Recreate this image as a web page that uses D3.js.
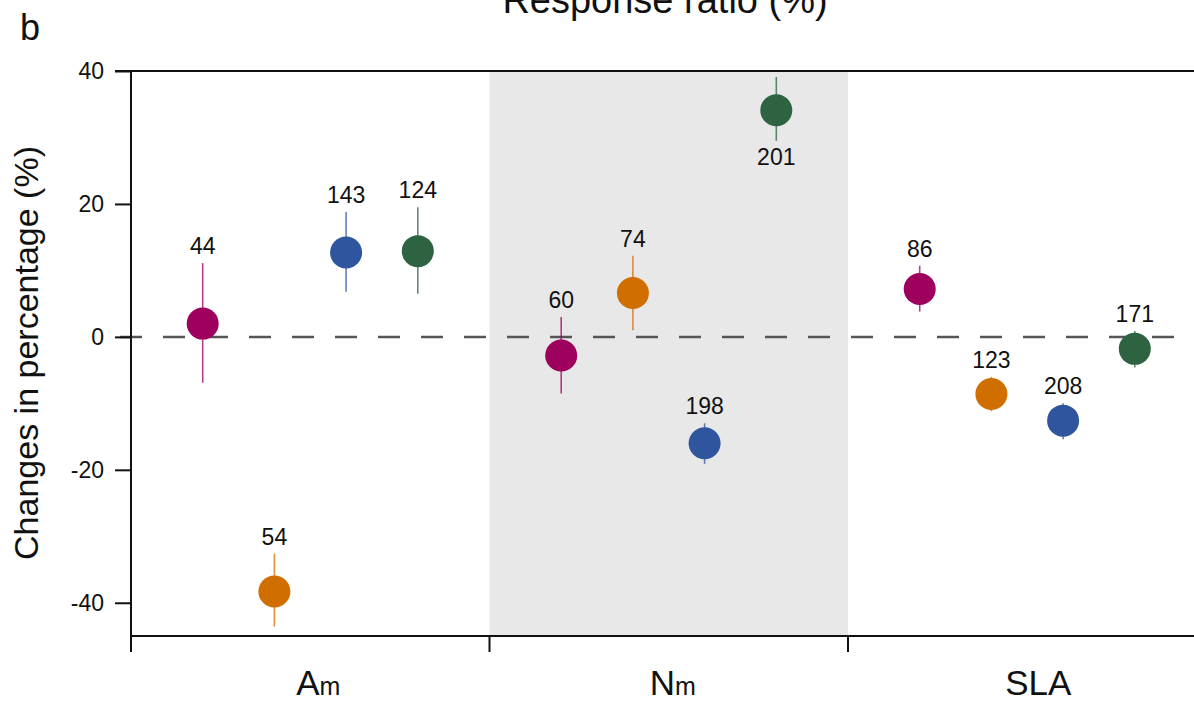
<!DOCTYPE html>
<html>
<head>
<meta charset="utf-8">
<script src="https://cdn.jsdelivr.net/npm/d3@7"></script>
<style>
  html, body { margin: 0; padding: 0; background: #fff; }
  svg { display: block; font-family: "Liberation Sans", Arial, Helvetica, sans-serif; }
</style>
</head>
<body>
<svg id="chart" width="1194" height="704"></svg>
<script>
// Trait categories (x bands) and the four groups plotted inside each band
const categories = ["Am", "Nm", "SLA"];
const groups = ["g1", "g2", "g3", "g4"];
const groupColors = ["#9E005D", "#D06F00", "#2F559F", "#2D6341"];

// Mean response (%) per category, one entry per group
const meanAm  = [2.0, -38.3, 12.7, 12.9];
const meanNm  = [-2.8, 6.6, -16.0, 34.1];
const meanSLA = [7.2, -8.6, -12.6, -1.8];

// Lower / upper confidence limits (%)
const lowAm  = [-6.9, -43.6, 6.8, 6.5];
const lowNm  = [-8.5, 1.0, -19.1, 29.5];
const lowSLA = [3.8, -11.2, -15.4, -4.6];
const highAm  = [11.1, -32.6, 18.8, 19.5];
const highNm  = [3.0, 12.2, -13.0, 39.1];
const highSLA = [10.7, -6.0, -10.0, 0.9];

// Number of observations
const nAm  = [44, 54, 143, 124];
const nNm  = [60, 74, 198, 201];
const nSLA = [86, 123, 208, 171];

const yTicks = [-40, -20, 0, 20, 40];

const table = {
  Am:  { mean: meanAm,  low: lowAm,  high: highAm,  n: nAm },
  Nm:  { mean: meanNm,  low: lowNm,  high: highNm,  n: nNm },
  SLA: { mean: meanSLA, low: lowSLA, high: highSLA, n: nSLA }
};
const points = [];
categories.forEach(c => {
  groups.forEach((g, i) => {
    points.push({ cat: c, group: g, idx: i,
      mean: table[c].mean[i], low: table[c].low[i], high: table[c].high[i], n: table[c].n[i] });
  });
});

const svg = d3.select("#chart");
const plotLeft = 131, plotTop = 71, plotBottom = 636;
const bandW = 358.5;

const x = d3.scaleBand().domain(categories).range([plotLeft, plotLeft + bandW * 3]).padding(0);
const xi = d3.scalePoint().domain(groups).range([0, x.bandwidth()]).padding(1);
const y = d3.scaleLinear().domain([-45, 40]).range([plotBottom, plotTop]);

const px = d => x(d.cat) + xi(d.group);

// Shaded middle band
svg.append("rect")
  .attr("x", x("Nm")).attr("y", plotTop)
  .attr("width", x.bandwidth()).attr("height", plotBottom - plotTop)
  .attr("fill", "#E8E8E8");

// Zero reference line
svg.append("line")
  .attr("x1", plotLeft - 11).attr("x2", 1194)
  .attr("y1", y(0)).attr("y2", y(0))
  .attr("stroke", "#555").attr("stroke-width", 2.5)
  .attr("stroke-dasharray", "22,21");

// Y axis (plain hyphen for negative numbers)
const yAxis = svg.append("g")
  .attr("transform", `translate(${plotLeft},0)`)
  .call(d3.axisLeft(y).tickValues(yTicks).tickSize(16).tickPadding(11).tickFormat(d => String(d)));
yAxis.select(".domain").remove();
yAxis.selectAll(".tick line").attr("stroke", "#111").attr("stroke-width", 2);
yAxis.selectAll(".tick text")
  .attr("font-size", 23).attr("fill", "#111")
  .attr("font-family", "Liberation Sans, Arial, sans-serif");

// Frame lines: left, top and bottom
svg.append("line").attr("x1", plotLeft).attr("x2", plotLeft).attr("y1", plotTop).attr("y2", plotBottom + 16)
  .attr("stroke", "#111").attr("stroke-width", 2);
svg.append("line").attr("x1", plotLeft - 16).attr("x2", 1194).attr("y1", plotTop).attr("y2", plotTop)
  .attr("stroke", "#111").attr("stroke-width", 2);
svg.append("line").attr("x1", plotLeft).attr("x2", 1194).attr("y1", plotBottom).attr("y2", plotBottom)
  .attr("stroke", "#111").attr("stroke-width", 2);

// Band boundary ticks on the x axis
svg.selectAll(".xtick").data(categories.slice(1)).enter().append("line")
  .attr("x1", d => x(d)).attr("x2", d => x(d))
  .attr("y1", plotBottom).attr("y2", plotBottom + 16)
  .attr("stroke", "#111").attr("stroke-width", 2);

// Category labels with subscripts
const labelShift = { Am: 8, Nm: 4, SLA: 11 };
const catLabel = svg.selectAll(".cat").data(categories).enter().append("text")
  .attr("x", d => x(d) + x.bandwidth() / 2 + labelShift[d])
  .attr("y", 695)
  .attr("text-anchor", "middle")
  .attr("font-size", 35)
  .attr("fill", "#111");
catLabel.each(function(d) {
  const t = d3.select(this);
  if (d === "SLA") { t.text(d); return; }
  t.append("tspan").text(d[0]);
  t.append("tspan").attr("font-size", 25).text(d.slice(1));
});

// Error bars
svg.selectAll(".err").data(points).enter().append("line")
  .attr("x1", px).attr("x2", px)
  .attr("y1", d => y(d.low)).attr("y2", d => y(d.high))
  .attr("stroke", d => groupColors[d.idx])
  .attr("stroke-opacity", 0.75)
  .attr("stroke-width", 1.6);

// Mean points
svg.selectAll(".pt").data(points).enter().append("circle")
  .attr("cx", px).attr("cy", d => y(d.mean)).attr("r", 16)
  .attr("fill", d => groupColors[d.idx]);

// Sample size labels (above the bar, below it when near the top)
svg.selectAll(".nlab").data(points).enter().append("text")
  .attr("x", px)
  .attr("y", d => d.high > 36 ? y(d.low) + 24 : y(d.high) - 9)
  .attr("text-anchor", "middle")
  .attr("font-size", 23)
  .attr("fill", "#111")
  .text(d => d.n);

// Axis title
svg.append("text")
  .attr("transform", `translate(38,353) rotate(-90)`)
  .attr("text-anchor", "middle")
  .attr("font-size", 34)
  .attr("fill", "#111")
  .text("Changes in percentage (%)");

// Chart title and panel letter
svg.append("text")
  .attr("x", 665).attr("y", 13)
  .attr("text-anchor", "middle")
  .attr("font-size", 38)
  .attr("fill", "#111")
  .text("Response ratio (%)");
svg.append("text")
  .attr("x", 20).attr("y", 40)
  .attr("font-size", 36)
  .attr("fill", "#111")
  .text("b");
</script>
</body>
</html>
